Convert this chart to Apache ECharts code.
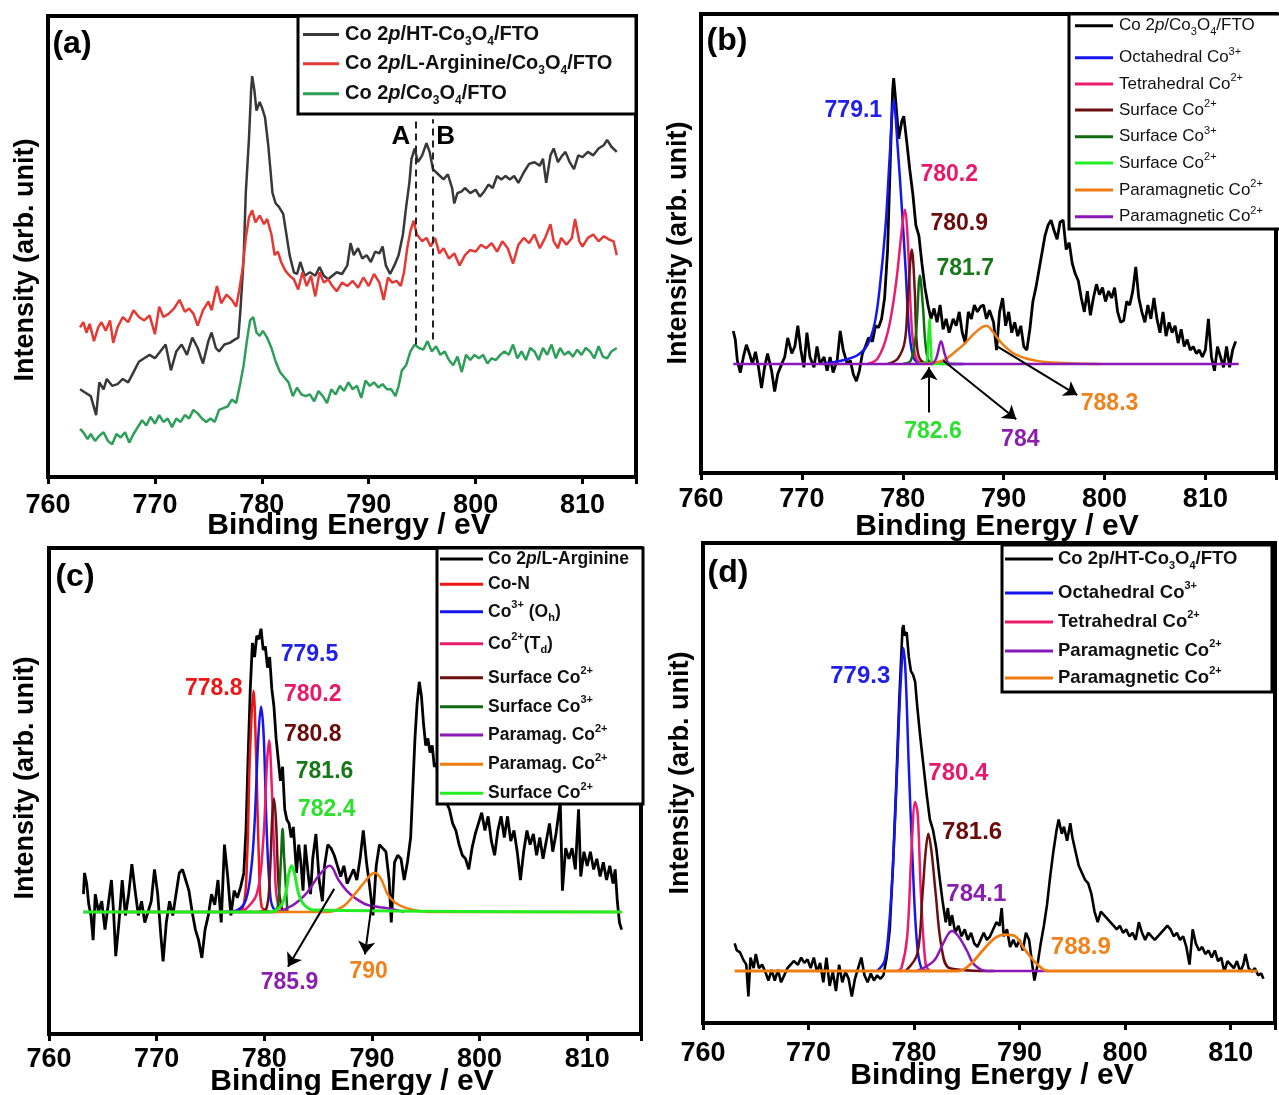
<!DOCTYPE html>
<html><head><meta charset="utf-8">
<script src="https://cdn.jsdelivr.net/npm/echarts@6/dist/echarts.min.js"></script>
<style>html,body{margin:0;padding:0;background:#fff}#c{width:1279px;height:1095px}</style>
</head><body><div id="c"></div>
<script>
// ---------------- DATA ----------------
const xTicks = [760, 770, 780, 790, 800, 810];
const panelLabels = ['(a)', '(b)', '(c)', '(d)'];
const xName = 'Binding Energy / eV';
const yName = 'Intensity (arb. unit)';

// Panel (a)
const aHT = [[763.0,25.5],[763.5,24.5],[764.0,23.5],[764.5,18.0],[764.8,27.5],[765.2,25.5],[765.5,28.5],[766.0,26.5],[766.5,27.0],[767.0,28.5],[767.5,27.5],[768.0,30.5],[768.5,33.5],[769.0,34.5],[769.5,35.5],[770.0,34.5],[770.5,36.5],[771.0,38.5],[771.5,31.0],[772.0,36.5],[772.5,38.5],[773.0,35.5],[773.5,40.5],[774.0,37.5],[774.5,33.0],[775.0,39.5],[775.3,42.0],[775.7,37.5],[776.0,36.5],[776.5,38.5],[777.0,39.0],[777.5,40.0],[777.8,40.5],[778.0,48.5],[778.3,63.5],[778.5,82.5],[778.8,98.5],[779.0,112.5],[779.1,116.5],[779.3,112.5],[779.5,106.5],[779.8,109.0],[780.0,107.5],[780.3,104.5],[780.6,96.5],[781.0,82.5],[781.3,79.5],[781.6,78.5],[782.0,76.5],[782.3,70.5],[782.6,64.5],[783.0,59.5],[783.3,59.0],[783.6,62.5],[784.0,58.5],[784.5,59.5],[785.0,58.5],[785.4,61.0],[785.8,58.5],[786.2,57.5],[786.6,58.5],[787.0,59.5],[787.5,59.0],[788.0,61.5],[788.3,68.0],[788.6,64.5],[789.0,66.5],[789.4,63.5],[789.8,64.5],[790.2,62.5],[790.6,65.5],[791.0,65.0],[791.3,67.0],[791.6,61.5],[792.0,59.0],[792.4,61.5],[792.8,64.5],[793.2,70.5],[793.5,78.5],[793.8,85.5],[794.0,92.5],[794.3,95.5],[794.6,91.5],[795.0,93.5],[795.4,97.0],[795.7,94.5],[796.0,89.5],[796.5,88.0],[797.0,86.5],[797.4,88.0],[797.8,84.0],[798.0,79.5],[798.3,82.5],[798.7,83.0],[799.0,84.0],[799.5,82.5],[800.0,83.5],[800.4,81.5],[800.8,83.0],[801.2,85.0],[801.6,84.0],[802.0,87.5],[802.4,86.5],[802.8,87.5],[803.2,86.5],[803.6,87.5],[804.0,85.5],[804.5,88.5],[805.0,91.0],[805.5,91.5],[806.0,90.5],[806.3,92.5],[806.6,85.5],[807.0,93.5],[807.3,95.5],[807.7,91.5],[808.0,93.0],[808.4,94.5],[808.8,91.5],[809.2,89.5],[809.6,93.5],[810.0,93.0],[810.5,94.5],[811.0,93.5],[811.5,95.5],[812.0,96.5],[812.3,98.0],[812.7,96.0],[813.2,94.5]];
const aArg = [[763.0,43.5],[763.3,45.0],[763.6,42.0],[763.9,44.5],[764.3,39.5],[764.7,43.5],[765.0,45.0],[765.4,42.5],[765.8,45.5],[766.1,39.0],[766.5,43.5],[767.0,46.5],[767.5,45.0],[768.0,48.5],[768.5,46.5],[769.0,45.5],[769.5,47.0],[770.0,41.5],[770.4,49.5],[770.8,46.5],[771.3,47.5],[771.8,49.0],[772.3,51.5],[772.8,48.0],[773.2,49.0],[773.6,47.5],[774.0,44.0],[774.5,48.5],[775.0,51.0],[775.3,48.5],[775.8,55.5],[776.2,50.5],[776.7,53.0],[777.2,51.5],[777.6,49.5],[777.9,54.5],[778.2,60.5],[778.5,69.5],[778.8,75.5],[779.1,77.5],[779.4,74.0],[779.8,76.0],[780.2,73.5],[780.5,75.0],[780.9,70.5],[781.2,64.5],[781.5,65.5],[781.8,62.5],[782.2,60.0],[782.6,58.5],[783.0,57.5],[783.4,54.5],[783.8,59.5],[784.2,55.5],[784.6,58.5],[785.0,52.5],[785.4,59.5],[785.8,56.5],[786.2,57.5],[786.6,55.5],[787.0,54.0],[787.5,56.5],[788.0,55.5],[788.5,57.0],[789.0,55.0],[789.5,58.0],[790.0,55.5],[790.5,59.0],[791.0,56.5],[791.4,51.5],[791.8,58.0],[792.2,56.5],[792.6,57.0],[793.0,55.5],[793.3,59.5],[793.6,66.5],[793.9,71.5],[794.2,74.5],[794.5,70.5],[795.0,68.5],[795.4,69.5],[795.8,67.0],[796.2,69.5],[796.6,65.0],[797.0,66.5],[797.5,63.5],[798.0,65.0],[798.5,61.5],[799.0,64.5],[799.5,66.0],[800.0,65.5],[800.5,67.5],[801.0,66.5],[801.5,68.0],[802.0,65.5],[802.5,68.5],[803.0,66.5],[803.5,62.0],[804.0,67.5],[804.5,69.5],[805.0,68.0],[805.5,70.5],[806.0,66.5],[806.5,69.5],[807.0,73.5],[807.3,68.5],[807.7,66.5],[808.0,69.5],[808.5,67.5],[809.0,69.5],[809.3,75.0],[809.7,68.5],[810.0,67.0],[810.5,69.5],[811.0,70.5],[811.5,68.5],[812.0,70.0],[812.5,69.0],[812.9,68.5],[813.2,64.5]];
const aCo = [[763.0,14.0],[763.3,13.0],[763.7,11.0],[764.0,12.5],[764.4,10.5],[764.8,12.0],[765.2,13.0],[765.6,10.5],[766.0,9.5],[766.4,12.5],[766.8,11.5],[767.2,13.0],[767.6,10.0],[768.0,12.5],[768.4,14.5],[768.8,16.5],[769.2,15.0],[769.6,17.5],[770.0,15.5],[770.4,18.0],[770.8,16.0],[771.2,17.0],[771.6,14.5],[772.0,17.0],[772.4,16.0],[772.8,18.0],[773.2,17.0],[773.6,19.5],[774.0,18.5],[774.4,17.0],[774.8,16.0],[775.2,17.0],[775.6,16.0],[776.0,19.5],[776.4,20.0],[776.8,20.5],[777.2,22.5],[777.6,21.5],[778.0,27.5],[778.3,32.5],[778.6,39.5],[778.9,45.5],[779.2,46.5],[779.5,42.0],[779.8,41.0],[780.1,42.5],[780.5,40.5],[780.9,37.5],[781.3,33.5],[781.7,30.5],[782.1,29.0],[782.5,27.5],[782.9,23.5],[783.3,26.0],[783.7,24.0],[784.1,23.5],[784.5,24.0],[784.9,22.0],[785.3,25.0],[785.7,23.5],[786.1,21.5],[786.5,25.5],[786.9,24.0],[787.3,26.5],[787.7,25.0],[788.1,27.5],[788.5,25.5],[788.9,26.5],[789.3,23.0],[789.7,28.0],[790.1,26.5],[790.5,27.5],[790.9,26.0],[791.3,27.0],[791.7,25.5],[792.1,25.5],[792.5,23.5],[792.8,26.5],[793.1,31.0],[793.5,32.5],[793.9,36.5],[794.3,38.5],[794.7,37.5],[795.1,37.0],[795.5,39.5],[795.9,36.5],[796.3,38.0],[796.7,35.5],[797.1,36.5],[797.5,34.0],[797.9,32.5],[798.3,35.0],[798.7,30.5],[799.1,35.5],[799.5,34.0],[799.9,35.5],[800.3,34.5],[800.7,35.5],[801.1,33.0],[801.5,34.5],[801.9,34.0],[802.3,35.5],[802.7,36.5],[803.1,35.5],[803.5,38.5],[803.9,34.5],[804.3,36.5],[804.7,34.0],[805.1,37.5],[805.5,36.5],[805.9,34.0],[806.3,37.5],[806.7,35.5],[807.1,38.5],[807.5,34.5],[807.9,37.5],[808.3,35.5],[808.7,36.5],[809.1,35.0],[809.5,37.0],[809.9,35.5],[810.3,37.5],[810.7,36.5],[811.1,34.5],[811.5,38.0],[811.9,35.0],[812.3,34.5],[812.7,36.5],[813.2,37.5]];
const aDashes = [[[794.4,38.5],[794.4,104]], [[796.0,40.0],[796.0,104]]];
const aNotes = [[793.0,99,'A','#000000'], [797.2,99,'B','#000000']];
const aLegend = ['Co 2{i|p}/HT-Co{sub|3}O{sub|4}/FTO', 'Co 2{i|p}/L-Arginine/Co{sub|3}O{sub|4}/FTO', 'Co 2{i|p}/Co{sub|3}O{sub|4}/FTO'];

// Panel (b)
const bRaw = [[763.2,41.0],[763.4,38.5],[763.6,32.5],[763.9,29.0],[764.2,33.5],[764.5,37.0],[764.8,34.5],[765.1,31.5],[765.4,35.0],[765.7,30.5],[766.0,24.5],[766.3,30.5],[766.6,34.5],[767.0,29.5],[767.3,23.5],[767.6,28.5],[768.0,31.5],[768.3,33.5],[768.6,39.0],[769.0,34.5],[769.3,36.5],[769.6,42.5],[769.9,35.5],[770.2,30.5],[770.5,40.5],[770.8,33.5],[771.2,30.5],[771.5,36.5],[771.8,31.5],[772.2,33.5],[772.5,29.5],[772.8,33.5],[773.1,29.0],[773.5,32.5],[773.8,41.0],[774.1,35.5],[774.5,31.5],[774.8,32.5],[775.1,28.5],[775.4,26.5],[775.7,29.5],[776.0,34.5],[776.3,36.5],[776.6,39.0],[777.0,38.0],[777.3,42.5],[777.6,42.0],[777.9,44.5],[778.2,50.5],[778.5,64.5],[778.8,93.5],[779.0,110.5],[779.1,114.0],[779.3,107.5],[779.6,96.5],[779.9,101.5],[780.1,103.0],[780.4,95.5],[780.7,87.5],[781.0,80.5],[781.3,71.5],[781.6,68.5],[781.9,60.5],[782.2,53.5],[782.5,48.5],[782.8,44.5],[783.1,47.5],[783.4,43.5],[783.7,48.5],[784.0,41.5],[784.3,44.5],[784.6,40.5],[785.0,44.5],[785.3,42.5],[785.6,46.5],[785.9,40.5],[786.2,37.5],[786.5,46.5],[786.8,44.5],[787.1,48.5],[787.4,46.5],[787.7,48.0],[788.0,48.5],[788.3,44.5],[788.6,47.0],[789.0,43.5],[789.3,35.5],[789.6,46.5],[789.9,50.5],[790.2,42.5],[790.5,46.5],[790.8,40.5],[791.1,43.5],[791.4,39.5],[791.7,42.5],[792.0,36.5],[792.3,35.5],[792.6,41.5],[792.9,49.5],[793.2,53.5],[793.5,58.5],[793.8,63.5],[794.1,68.5],[794.4,71.5],[794.7,73.0],[795.0,70.0],[795.3,67.5],[795.6,72.5],[795.9,73.0],[796.2,64.5],[796.5,66.5],[796.8,60.5],[797.1,57.5],[797.4,55.5],[797.7,50.5],[798.0,46.5],[798.3,52.5],[798.6,45.5],[798.9,50.5],[799.2,54.5],[799.5,51.5],[799.8,53.5],[800.1,49.5],[800.4,52.5],[800.7,50.5],[801.0,53.5],[801.3,46.5],[801.6,43.5],[801.9,44.0],[802.2,49.5],[802.5,48.5],[802.8,52.5],[803.1,59.5],[803.4,50.5],[803.7,46.5],[804.0,43.5],[804.3,48.5],[804.6,44.5],[804.9,50.5],[805.2,44.5],[805.5,40.5],[805.8,46.5],[806.1,39.5],[806.4,43.5],[806.7,40.5],[807.0,42.5],[807.3,37.5],[807.6,41.5],[807.9,36.5],[808.2,38.5],[808.5,35.5],[808.8,36.5],[809.1,34.5],[809.4,35.5],[809.7,33.5],[810.0,35.5],[810.3,44.5],[810.6,33.5],[810.9,29.5],[811.2,36.5],[811.5,33.5],[811.8,30.5],[812.1,36.5],[812.4,30.5],[812.7,35.5],[813.0,38.0]];
const bOct = [[772.0,31.5],[774.0,32.5],[775.5,34.0],[776.5,37.0],[777.2,43.0],[777.7,53.0],[778.3,71.5],[778.7,91.0],[779.1,107.5],[779.5,94.0],[779.9,77.0],[780.3,58.0],[780.6,42.0],[781.0,34.0],[781.5,32.0],[786.0,31.5]];
const bTet = [[776.5,31.5],[777.5,33.0],[778.5,40.5],[779.3,54.0],[779.9,70.0],[780.2,76.0],[780.5,67.0],[780.8,46.5],[781.1,36.0],[781.6,32.0],[783.0,31.5]];
const bSurf2 = [[778.5,31.5],[779.5,33.0],[780.2,38.0],[780.5,50.0],[780.9,64.5],[781.2,52.0],[781.4,37.0],[781.8,32.5],[783.0,31.5]];
const bSurf3 = [[780.0,31.5],[780.8,32.5],[781.3,40.0],[781.7,57.0],[782.0,48.0],[782.3,36.0],[782.7,32.0],[784.0,31.5]];
const bSurf2b = [[781.5,31.5],[782.4,32.5],[782.55,40.0],[782.65,44.5],[782.8,36.0],[783.0,31.5],[785.4,31.5]];
const bPara1 = [[782.0,31.5],[784.0,32.5],[785.4,35.5],[786.2,37.5],[787.0,40.0],[787.8,42.0],[788.3,42.5],[789.0,40.5],[789.8,37.5],[791.0,34.5],[792.3,33.0],[794.3,32.0],[799.5,31.5]];
const bPara2 = [[763.2,31.5],[782.8,31.5],[783.3,33.0],[783.8,38.0],[784.2,34.0],[784.7,31.5],[813.3,31.5]];
const bNotes = [[775.1,104.5,'779.1','#2020e6'],[784.6,86.0,'780.2','#e8196a'],[785.6,72.0,'780.9','#6a0c0c'],[786.2,59.0,'781.7','#167816'],[783.0,12.0,'782.6','#2ee02e'],[791.65,9.5,'784','#8a1fae'],[800.5,20.0,'788.3','#f0821c']];
const bArrows = [[[782.6,17.5],[782.6,30.5]], [[784.0,32.5],[791.25,15.5]], [[789.4,36.5],[797.3,22.5]]];
const bLegend = ['Co 2{i|p}/Co{sub|3}O{sub|4}/FTO','Octahedral Co{sup|3+}','Tetrahedral Co{sup|2+}','Surface Co{sup|2+}','Surface Co{sup|3+}','Surface Co{sup|2+}','Paramagnetic Co{sup|2+}','Paramagnetic Co{sup|2+}'];

// Panel (c)
const cRaw = [[763.2,39.5],[763.3,45.5],[763.5,42.5],[763.7,36.5],[763.9,33.5],[764.1,26.5],[764.3,39.5],[764.6,34.5],[764.9,37.5],[765.2,29.5],[765.5,36.5],[765.8,43.5],[766.0,34.5],[766.2,22.0],[766.5,31.5],[766.8,43.5],[767.1,33.5],[767.4,39.5],[767.7,48.0],[768.0,40.5],[768.3,33.5],[768.6,37.5],[768.9,31.5],[769.2,34.5],[769.5,37.5],[769.8,46.5],[770.1,39.5],[770.4,27.5],[770.6,20.5],[770.9,31.5],[771.2,37.5],[771.5,33.5],[771.8,39.5],[772.1,45.5],[772.4,46.5],[772.7,43.5],[773.0,40.5],[773.3,34.5],[773.6,29.5],[773.9,26.5],[774.2,21.5],[774.5,29.5],[774.8,33.5],[775.1,39.5],[775.4,36.5],[775.7,43.5],[776.0,31.5],[776.3,53.5],[776.6,44.5],[776.9,33.5],[777.2,40.5],[777.5,38.5],[777.8,41.5],[778.1,45.5],[778.3,57.5],[778.5,78.5],[778.7,97.5],[778.9,110.5],[779.1,106.5],[779.3,112.5],[779.5,111.5],[779.7,114.5],[779.9,108.5],[780.1,109.5],[780.3,103.5],[780.5,106.5],[780.7,97.5],[780.9,92.5],[781.1,83.5],[781.3,77.5],[781.5,71.5],[781.7,75.5],[781.9,63.5],[782.1,60.5],[782.3,59.5],[782.5,55.5],[782.7,58.5],[783.0,45.5],[783.2,53.5],[783.4,48.5],[783.6,40.5],[783.8,53.5],[784.1,44.5],[784.3,39.5],[784.5,49.5],[784.8,56.5],[785.1,43.5],[785.4,37.5],[785.6,47.5],[785.9,53.5],[786.2,52.5],[786.5,50.5],[786.8,47.5],[787.1,44.5],[787.4,47.5],[787.7,42.5],[788.0,44.5],[788.3,46.5],[788.6,43.5],[788.9,49.5],[789.2,57.5],[789.5,48.5],[789.8,41.5],[790.1,33.5],[790.4,47.5],[790.7,53.5],[791.0,52.5],[791.3,51.5],[791.6,43.5],[791.8,31.5],[792.1,48.5],[792.4,50.5],[792.7,49.5],[793.0,43.5],[793.3,48.5],[793.6,55.5],[793.8,69.5],[794.0,83.5],[794.2,93.5],[794.4,99.5],[794.6,95.5],[794.8,87.5],[795.0,81.5],[795.2,83.5],[795.4,79.5],[795.6,81.5],[795.8,75.5],[796.0,76.5],[796.3,69.5],[796.6,71.5],[796.9,65.5],[797.2,63.5],[797.5,59.5],[797.8,57.5],[798.1,53.5],[798.4,50.5],[798.7,49.5],[799.0,46.5],[799.3,52.5],[799.6,56.5],[799.9,59.5],[800.2,62.5],[800.5,57.5],[800.8,61.5],[801.1,54.5],[801.4,50.5],[801.7,57.5],[802.0,61.5],[802.3,55.5],[802.6,61.5],[802.9,54.5],[803.2,57.5],[803.5,51.5],[803.8,43.5],[804.1,51.5],[804.4,57.5],[804.7,53.5],[805.0,56.5],[805.3,50.5],[805.6,55.5],[805.9,49.5],[806.2,54.5],[806.5,59.5],[806.8,51.5],[807.1,56.5],[807.5,65.5],[807.7,40.5],[808.0,52.5],[808.3,49.5],[808.6,52.5],[808.9,46.5],[809.2,63.5],[809.4,44.5],[809.7,51.5],[810.0,47.5],[810.3,51.5],[810.6,46.5],[810.9,49.5],[811.2,44.5],[811.5,48.5],[811.8,43.5],[812.1,47.5],[812.4,42.5],[812.6,46.5],[812.8,37.5],[813.0,31.5],[813.1,30.5],[813.2,29.5]];
const cCoN = [[777.0,34.5],[778.0,35.5],[778.4,49.5],[778.65,77.5],[779.0,97.0],[779.25,77.5],[779.5,49.5],[779.75,36.0],[780.5,34.5]];
const cOh = [[776.0,34.5],[777.5,35.0],[778.3,38.0],[778.8,47.0],[779.1,59.5],[779.45,84.0],[779.7,92.5],[779.95,84.0],[780.2,59.5],[780.5,41.5],[780.85,35.5],[782.0,34.5]];
const cTd = [[778.0,34.5],[779.3,39.5],[779.9,54.5],[780.25,76.5],[780.45,83.0],[780.7,69.5],[780.95,49.5],[781.25,37.0],[782.0,34.5]];
const cSurf2 = [[779.5,34.5],[780.2,35.5],[780.5,44.0],[780.75,62.0],[780.9,66.5],[781.1,59.5],[781.35,41.0],[781.7,34.5]];
const cSurf3 = [[780.8,34.5],[781.25,36.0],[781.55,49.5],[781.7,58.0],[781.85,49.5],[782.15,34.5]];
const cPara1 = [[763.2,34.5],[781.0,34.5],[782.7,36.5],[783.85,39.5],[785.0,44.5],[785.75,47.0],[786.1,47.5],[786.9,43.5],[787.65,40.5],[788.4,38.5],[789.55,36.5],[791.45,35.5],[793.0,34.5]];
const cPara2 = [[766.5,34.5],[785.8,34.5],[787.3,36.0],[788.4,39.5],[789.2,42.5],[789.9,45.0],[790.3,45.5],[790.9,43.5],[791.45,39.5],[792.2,37.0],[793.3,35.5],[795.2,34.5],[813.2,34.5]];
const cSurf2b = [[763.2,34.5],[780.5,34.5],[781.5,36.0],[782.0,40.0],[782.3,45.5],[782.55,47.5],[782.8,45.5],[783.2,39.5],[783.7,36.5],[784.6,35.0],[813.2,34.5]];
const cNotes = [[784.2,107.3,'779.5','#2020e6'],[775.3,97.5,'778.8','#ee1616'],[784.5,96.0,'780.2','#e8196a'],[784.5,84.7,'780.8','#6a0c0c'],[785.6,74.0,'781.6','#167816'],[785.8,63.3,'782.4','#2ee02e'],[782.35,14.5,'785.9','#8a1fae'],[789.7,17.5,'790','#f0821c']];
const cArrows = [[[786.5,41.0],[782.2,19.0]], [[790.0,37.0],[789.35,22.5]]];
const cLegend = ['Co 2{i|p}/L-Arginine','Co-N','Co{sup|3+} (O{sub|h})','Co{sup|2+}(T{sub|d})','Surface Co{sup|2+}','Surface Co{sup|3+}','Paramag. Co{sup|2+}','Paramag. Co{sup|2+}','Surface Co{sup|2+}'];

// Panel (d)
const dRaw = [[763.0,22.5],[763.2,20.5],[763.5,20.0],[763.8,18.0],[764.1,16.5],[764.3,7.5],[764.5,18.5],[764.8,15.5],[765.0,19.5],[765.3,15.5],[765.6,16.5],[765.9,14.5],[766.2,12.0],[766.5,15.0],[766.8,12.0],[767.1,15.0],[767.4,11.5],[767.7,13.5],[768.0,15.5],[768.3,16.5],[768.6,17.5],[769.0,16.5],[769.3,18.5],[769.6,17.0],[769.9,18.0],[770.2,15.5],[770.5,18.5],[770.8,14.5],[771.1,17.0],[771.4,11.5],[771.7,18.5],[772.0,10.5],[772.3,14.5],[772.6,9.0],[772.9,16.5],[773.2,11.5],[773.5,14.5],[773.8,12.5],[774.1,7.5],[774.4,12.5],[774.7,15.5],[775.0,18.5],[775.3,13.5],[775.6,11.5],[775.9,14.0],[776.2,12.0],[776.5,13.5],[776.8,12.5],[777.1,13.5],[777.4,18.5],[777.7,26.5],[778.0,44.5],[778.3,66.5],[778.6,91.5],[778.9,111.5],[779.0,112.5],[779.1,109.5],[779.3,110.5],[779.5,103.5],[779.7,99.5],[779.9,98.5],[780.1,96.5],[780.3,89.5],[780.6,80.5],[780.9,72.5],[781.2,64.5],[781.5,57.5],[781.8,54.5],[782.1,49.5],[782.4,41.5],[782.7,34.5],[783.0,28.5],[783.2,32.5],[783.4,27.5],[783.6,30.5],[783.9,25.5],[784.2,27.5],[784.5,24.5],[784.8,26.5],[785.1,23.5],[785.4,25.5],[785.7,22.5],[786.0,21.5],[786.3,23.5],[786.6,25.5],[786.9,23.5],[787.2,24.5],[787.5,26.5],[787.8,28.5],[788.1,27.5],[788.3,32.5],[788.5,24.5],[788.8,26.5],[789.1,21.5],[789.4,23.5],[789.7,21.5],[790.0,23.5],[790.3,20.5],[790.6,25.5],[790.9,23.5],[791.2,16.5],[791.4,12.0],[791.7,16.5],[792.0,22.5],[792.3,27.5],[792.6,33.5],[792.9,41.5],[793.2,48.5],[793.5,54.5],[793.7,57.5],[794.0,53.5],[794.2,55.5],[794.5,51.5],[794.8,56.5],[795.0,52.5],[795.3,48.5],[795.6,44.5],[795.9,42.5],[796.2,40.5],[796.5,39.5],[796.8,36.5],[797.1,31.5],[797.4,28.5],[797.7,31.5],[798.0,30.5],[798.3,29.5],[798.6,28.5],[798.9,27.5],[799.2,26.5],[799.5,27.5],[799.8,25.5],[800.1,26.5],[800.4,24.5],[800.7,25.5],[801.0,23.5],[801.3,28.5],[801.6,25.5],[801.9,23.5],[802.2,25.5],[802.5,24.5],[802.8,23.5],[803.1,24.5],[803.4,25.5],[803.7,26.5],[804.0,27.5],[804.3,26.5],[804.6,24.5],[804.9,25.5],[805.2,23.5],[805.5,24.5],[805.8,21.5],[806.1,16.5],[806.4,26.5],[806.7,22.5],[807.0,20.5],[807.3,21.5],[807.6,19.5],[807.9,20.5],[808.2,18.5],[808.5,20.5],[808.8,17.5],[809.1,18.5],[809.4,14.5],[809.7,17.5],[810.0,16.5],[810.3,15.5],[810.6,17.5],[810.9,14.5],[811.2,16.5],[811.4,19.5],[811.7,15.5],[812.0,14.5],[812.3,15.5],[812.6,13.5],[812.9,14.0],[813.1,12.5]];
const dOct = [[776.5,14.7],[777.2,17.5],[777.6,26.5],[778.0,44.5],[778.4,72.5],[778.7,94.5],[779.0,106.0],[779.2,98.5],[779.5,72.5],[779.85,46.5],[780.25,23.5],[780.7,15.5],[781.5,14.7]];
const dTet = [[778.4,14.7],[778.8,15.5],[779.35,24.5],[779.75,48.5],[780.1,62.5],[780.35,59.0],[780.65,36.5],[781.1,16.5],[781.5,14.7]];
const dSurf = [[779.2,14.7],[780.3,19.5],[780.8,36.5],[781.1,48.5],[781.35,53.5],[781.65,48.5],[782.05,36.5],[782.6,21.5],[783.4,15.5],[787.6,14.7]];
const dPara1 = [[780.3,14.7],[781.85,17.5],[782.6,21.5],[783.2,25.0],[783.6,26.0],[784.2,24.5],[785.0,20.5],[785.7,16.5],[786.9,14.7],[792.7,14.7]];
const dPara2 = [[763.0,14.7],[784.2,14.7],[785.3,16.5],[786.5,20.5],[787.65,24.0],[788.6,25.0],[789.6,24.5],[790.55,20.5],[791.7,16.5],[792.7,14.7],[812.5,14.7]];
const dNotes = [[774.9,98.0,'779.3','#2020e6'],[784.2,70.5,'780.4','#e8196a'],[785.5,54.0,'781.6','#6a0c0c'],[785.9,36.5,'784.1','#8a1fae'],[795.8,21.5,'788.9','#f0821c']];
const dLegend = ['Co 2p/HT-Co{sub|3}O{sub|4}/FTO','Octahedral Co{sup|3+}','Tetrahedral Co{sup|2+}','Paramagnetic Co{sup|2+}','Paramagnetic Co{sup|2+}'];

// ---------------- STYLE / LAYOUT ----------------
const FONT = '"Liberation Sans", Arial, Helvetica, sans-serif';
const C = {black:'#000000', grey:'#383838', red:'#e53935', green:'#2e9e5b', blue:'#1515f0', pink:'#ec1b6e',
  brown:'#6b0f0f', dgreen:'#0f6a12', lgreen:'#22ee22', orange:'#f07d12', purple:'#8a17b8', cred:'#f01515'};
const GRIDS = [
  {left:48, top:16, width:588, height:461},
  {left:701, top:14, width:576, height:459},
  {left:49, top:548, width:592, height:486},
  {left:703, top:543, width:572, height:480}];
const XMAX = [815, 817, 815, 814.2];
const YMAX = [134, 132.5, 137.3, 135.7];
const LMARGIN = [15, 13, 12, 17];

function line(gi, data, color, width, smooth) {
  return {type:'line', xAxisIndex:gi, yAxisIndex:gi, data:data, showSymbol:false, symbol:'none',
    lineStyle:{color:color, width:width}, itemStyle:{color:color}, smooth:smooth ? 0.35 : false,
    animation:false, silent:true, z:3};
}
function notes(gi, arr, fs, marks, dashed) {
  const s = {type:'scatter', xAxisIndex:gi, yAxisIndex:gi, symbolSize:1, silent:true, animation:false, z:12,
    itemStyle:{color:'rgba(0,0,0,0)', opacity:1},
    data: arr.map(a => ({value:[a[0], a[1]], itemStyle:{opacity:1},
      label:{show:true, position:'inside', formatter:a[2], color:a[3], opacity:1,
      fontSize:fs, fontWeight:'bold', fontFamily:FONT}}))};
  if (marks) {
    s.markLine = {silent:true, animation:false, symbol: dashed ? ['none','none'] : ['none','arrow'], symbolSize:13,
      label:{show:false}, lineStyle:{color: dashed ? '#222' : '#000', width:2, type: dashed ? [7,5] : 'solid', opacity:1},
      emphasis:{disabled:true},
      data: marks.map(p => [{coord:p[0]}, {coord:p[1]}])};
  }
  return s;
}

const series = [
  line(0, aHT, C.grey, 2.5), line(0, aArg, C.red, 2.5), line(0, aCo, C.green, 2.5),
  notes(0, aNotes, 26, aDashes, true),
  line(1, bRaw, C.black, 2.8), line(1, bOct, C.blue, 2.5, true), line(1, bTet, C.pink, 2.5, true),
  line(1, bSurf2, C.brown, 2.5, true), line(1, bSurf3, C.dgreen, 2.5, true), line(1, bSurf2b, C.lgreen, 2.5, true),
  line(1, bPara1, C.orange, 2.5, true), line(1, bPara2, C.purple, 2.5, true),
  notes(1, bNotes, 23, bArrows, false),
  line(2, cRaw, C.black, 2.8), line(2, cCoN, C.cred, 2.5, true), line(2, cOh, C.blue, 2.5, true),
  line(2, cTd, C.pink, 2.5, true), line(2, cSurf2, C.brown, 2.5, true), line(2, cSurf3, C.dgreen, 2.5, true),
  line(2, cPara1, C.purple, 2.5, true), line(2, cPara2, C.orange, 2.5, true), line(2, cSurf2b, C.lgreen, 3, true),
  notes(2, cNotes, 23, cArrows, false),
  line(3, dRaw, C.black, 2.6), line(3, dOct, C.blue, 2.5, true), line(3, dTet, C.pink, 2.5, true),
  line(3, dSurf, C.brown, 2.5, true), line(3, dPara1, C.purple, 2.5, true), line(3, dPara2, C.orange, 2.8, true),
  notes(3, dNotes, 24, null, false)
];

const xAxis = GRIDS.map((g, i) => ({gridIndex:i, type:'value', min:xTicks[0], max:XMAX[i], interval:10,
  axisLine:{show:true, onZero:false, lineStyle:{color:'#000', width:4}},
  axisTick:{show:true, length:7, lineStyle:{color:'#000', width:3}},
  axisLabel:{margin:LMARGIN[i], fontSize:27, fontWeight:'bold', color:'#000', fontFamily:FONT,
    formatter: v => (xTicks.indexOf(v) >= 0 ? String(v) : '')},
  splitLine:{show:false}}));
const yAxis = GRIDS.map((g, i) => ({gridIndex:i, type:'value', min:0, max:YMAX[i],
  axisLine:{show:true, lineStyle:{color:'#000', width:4}}, axisTick:{show:false}, axisLabel:{show:false},
  splitLine:{show:false}}));
const grid = GRIDS.map(g => Object.assign({show:true, borderColor:'#000', borderWidth:4, backgroundColor:'transparent'}, g));

// Legends drawn as graphic groups
function legend(box, rows, colors, lx1, lx2, tx, fs, fw) {
  const els = [{type:'rect', shape:{x:box[0], y:box[1], width:box[2], height:box[3]},
    style:{fill:'#fff', stroke:'#000', lineWidth:3}, z:50}];
  const ss = Math.round(fs * 0.62);
  rows.forEach((ry, k) => {
    els.push({type:'line', shape:{x1:lx1, y1:ry, x2:lx2, y2:ry}, style:{stroke:colors[k], lineWidth:3}, z:51});
    els.push({type:'text', x:tx, y:ry, z:51, style:{text:box[4][k], fill:'#111', fontSize:fs, fontWeight:fw, fontFamily:FONT,
      verticalAlign:'middle', align:'left', lineHeight:fs + 6,
      rich:{ i:{fontStyle:'italic', fontWeight:fw, fontSize:fs, fontFamily:FONT, fill:'#111', lineHeight:fs + 6},
             sub:{fontSize:ss, fontWeight:fw, fontFamily:FONT, fill:'#111', lineHeight:fs - 2, verticalAlign:'bottom'},
             sup:{fontSize:ss, fontWeight:fw, fontFamily:FONT, fill:'#111', lineHeight:fs - 4, verticalAlign:'top'} }}});
  });
  return els;
}
const graphic = [].concat(
  legend([298, 16, 338, 98, aLegend], [34.4, 63.7, 93.7], [C.grey, C.red, C.green], 303, 339, 345, 20, 'bold'),
  legend([1069, 14, 215, 215, bLegend], [25.7, 57.7, 84, 110, 136.7, 163, 190, 216.7],
    [C.black, C.blue, C.pink, C.brown, C.dgreen, C.lgreen, C.orange, C.purple], 1075, 1113, 1119, 17, 'normal'),
  legend([437, 548, 206, 256, cLegend], [559, 584.3, 611.7, 643.7, 677.7, 706.7, 735, 764.3, 793.3],
    [C.black, C.cred, C.blue, C.pink, C.brown, C.dgreen, C.purple, C.orange, C.lgreen], 440, 483, 488, 17.5, 'bold'),
  legend([1002, 545, 270, 147, dLegend], [559, 593, 622, 651, 678],
    [C.black, C.blue, C.pink, C.purple, C.orange], 1005, 1053, 1058, 18.5, 'bold')
);
const panelPos = [[72, 44], [727, 41], [75, 577], [728, 573]];
panelPos.forEach((p, i) => graphic.push({type:'text', x:p[0], y:p[1], z:60,
  style:{text:panelLabels[i], fontSize:32, fontWeight:'bold', fontFamily:FONT, fill:'#000', align:'center', verticalAlign:'middle'}}));
const xNamePos = [[349, 526], [997, 527], [352, 1082], [992, 1076]];
xNamePos.forEach(p => graphic.push({type:'text', x:p[0], y:p[1], z:60,
  style:{text:xName, fontSize:30, fontWeight:'bold', fontFamily:FONT, fill:'#000', align:'center', verticalAlign:'middle'}}));
const yNamePos = [[26, 260], [679, 243], [26, 778], [681, 773]];
yNamePos.forEach(p => graphic.push({type:'text', x:p[0], y:p[1], rotation:Math.PI / 2, z:60,
  style:{text:yName, fontSize:27, fontWeight:'bold', fontFamily:FONT, fill:'#000', align:'center', verticalAlign:'middle'}}));

const chart = echarts.init(document.getElementById('c'), null, {renderer:'canvas'});
chart.setOption({backgroundColor:'#fff', animation:false, grid:grid, xAxis:xAxis, yAxis:yAxis, series:series, graphic:graphic});
</script></body></html>
